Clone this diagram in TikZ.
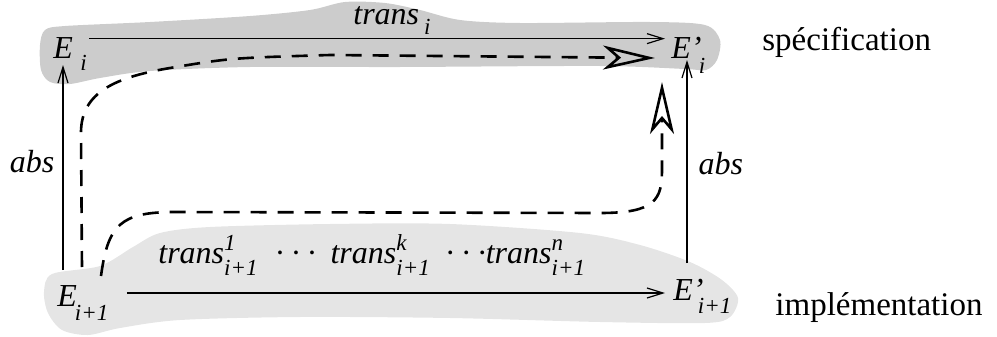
\documentclass[tikz,border=0pt]{standalone}
\usepackage{fontspec}
\setmainfont{Liberation Serif}
\usetikzlibrary{arrows.meta,calc}

% tailles des textes
\newcommand{\txtit}{\fontsize{16}{19}\selectfont\itshape}
\newcommand{\txtrm}{\fontsize{16.5}{20}\selectfont}
\newcommand{\indice}[2][6pt]{\raisebox{-#1}{\fontsize{11.5}{13}\selectfont\itshape #2}}
\newcommand{\expo}[2][6.5pt]{\rlap{\raisebox{#1}{\fontsize{11.5}{13}\selectfont\itshape #2}}}
\newcommand{\trans}[1]{trans\expo{#1}\indice{i+1}}

\begin{document}
\begin{tikzpicture}[x=0.5pt, y=-0.5pt,
  fin/.style={line width=0.6pt, -{Straight Barb[length=8pt,width=5pt]}},
  pointille/.style={line width=1.3pt, dash pattern=on 8pt off 5.5pt,
    -{Stealth[open,length=26pt,width=12pt,inset=7pt]}},
  etat/.style={inner sep=0pt, anchor=base west, font=\txtit}]

  % cadre (pixels, y vers le bas)
  \useasboundingbox (0,0) rectangle (997,337);

  % zone specification (gris fonce)
  \fill[black!20] plot[smooth cycle, tension=0.5] coordinates {
    (40,45) (45,30) (65,26) (150,22) (250,16) (310,10) (345,2) (385,3)
    (420,10) (460,20) (520,23) (650,22) (705,25) (720,40) (717,60)
    (706,70) (685,69) (600,66) (400,67) (250,67) (150,71) (100,78)
    (70,84) (50,82) (41,70)};

  % zone implementation (gris clair)
  \fill[black!10] plot[smooth cycle, tension=0.5] coordinates {
    (44,292) (52,274) (100,266) (133,247) (160,233) (210,227) (330,224)
    (450,224) (580,233) (640,245) (690,262) (722,280) (738,298) (730,317)
    (705,323) (600,322) (450,318) (300,317) (180,320) (120,328) (88,335)
    (62,330) (48,313)};

  % etats
  \node[etat] (Ei)  at (53,58)   {E\hspace{3.75pt}\indice{i}};
  \node[etat] (Eip) at (671,58)  {E\rlap{'}\hspace{4pt}\indice[7.5pt]{i}};
  \node[etat] (Ej)  at (57,306)  {E\hspace{-1pt}\indice[7pt]{i+1}};
  \node[etat] (Ejp) at (673,300) {E\rlap{'}\hspace{2.5pt}\indice[6.5pt]{i+1}};

  % transitions
  \node[etat] (ti) at (353,25) {trans\hspace{2.5pt}\indice[5pt]{i}};
  \node[etat] (tj) at (158,263)
    {\trans{1}\hspace{9pt}· · ·\hspace{7.5pt}\trans{k}\hspace{8pt}· · ·\trans{n}};

  % niveaux
  \node[inner sep=0pt, anchor=base west, font=\txtrm] (spec) at (762,50) {spécification};
  \node[inner sep=0pt, anchor=base west, font=\txtrm] (impl) at (775,315) {implémentation};

  % fleches horizontales
  \draw[fin] ($(Ei.north east)+(1pt,-1pt)$) coordinate (hA)
    -- ($(Eip.west |- hA)+(-3pt,0)$);
  \draw[fin] ($(Ej.base east)+(9pt,6.5pt)$) coordinate (hB)
    -- ($(Ejp.west |- hB)+(-4pt,0)$);

  % abstraction
  \draw[fin] ($(Ej.base west)+(3pt,18pt)$) coordinate (vA)
    -- ($(vA |- Ei.base)+(0,-3.5pt)$)
    node[pos=0.53, left=4pt, inner sep=0pt, font=\txtit] (absg) {abs};
  \draw[fin] ($(Ejp.base west)+(7pt,18.5pt)$) coordinate (vB)
    -- ($(vB |- Eip.base)+(0,-1pt)$)
    node[pos=0.49, right=5.5pt, inner sep=0pt, font=\txtit] (absd) {abs};

  % chemins pointilles
  \coordinate (dA) at ($(Ej.base west)+(12.5pt,19.5pt)$);
  \coordinate (fA) at ($(Eip.base west)+(-8pt,0)$);
  \coordinate (dB) at ($(Ej.base west)+(22pt,15pt)$);
  \coordinate (fB) at ($(Eip.base west)+(-4.5pt,-12pt)$);
  \draw[pointille] (dA) -- (81,135) .. controls (80,95) and (110,78) .. (170,68)
    .. controls (230,58) .. (330,55) -- (fA);
  \draw[pointille] (dB) .. controls (108,225) and (120,212) .. (175,212)
    -- (600,213) .. controls (655,213) and (662,200) .. (662,170) -- (fB);

\end{tikzpicture}
\end{document}
